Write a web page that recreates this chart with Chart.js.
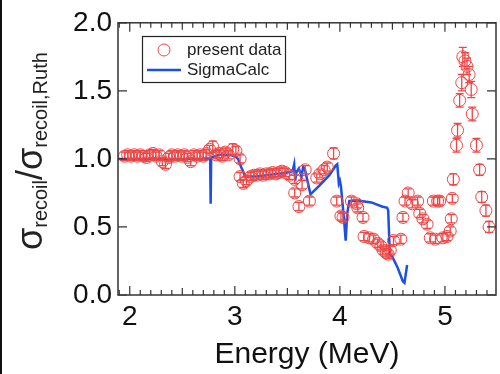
<!DOCTYPE html>
<html>
<head>
<meta charset="utf-8">
<script src="https://cdn.jsdelivr.net/npm/chart.js@4.4.1/dist/chart.umd.min.js"></script>
<style>
  html, body { margin: 0; padding: 0; background: #fff; overflow: hidden; }
  #wrap { width: 503px; height: 374px; }
</style>
</head>
<body>
<div id="wrap"><canvas id="xs" width="503" height="374"></canvas></div>
<script>
// measured points (E in MeV, ratio, error)
var dataE = [1.95, 1.98, 2.01, 2.04, 2.07, 2.10, 2.13, 2.16, 2.19, 2.22, 2.25, 2.28, 2.31, 2.34, 2.37, 2.40,
  2.43, 2.46, 2.49, 2.52, 2.55, 2.58, 2.61, 2.64, 2.67, 2.70, 2.73, 2.76, 2.79, 2.82, 2.85, 2.88, 2.91, 2.94,
  2.98, 3.01, 3.05, 3.05, 3.08, 3.11, 3.15, 3.18, 3.21, 3.24, 3.27, 3.30, 3.33, 3.36, 3.39, 3.42, 3.45, 3.48,
  3.52, 3.57, 3.57, 3.61, 3.64, 3.67, 3.71, 3.78, 3.81, 3.85, 3.88, 3.94, 3.97, 4.01, 4.03, 4.11, 4.16, 4.17,
  4.22, 4.23, 4.28, 4.32, 4.36, 4.39, 4.41, 4.44, 4.46, 4.48, 4.51, 4.58, 4.60, 4.62, 4.65, 4.69, 4.74, 4.76,
  4.79, 4.83, 4.86, 4.89, 4.91, 4.93, 4.95, 4.98, 5.02, 5.05, 5.06, 5.07, 5.08, 5.11, 5.12, 5.14, 5.16, 5.17,
  5.19, 5.21, 5.23, 5.25, 5.26, 5.30, 5.33, 5.35, 5.39, 5.42];
var dataV = [1.02, 1.03, 1.02, 1.03, 1.02, 1.03, 1.02, 1.01, 1.03, 1.04, 1.02, 1.03, 0.98, 0.96, 1.01, 1.03,
  1.02, 1.03, 1.02, 1.03, 1.01, 0.98, 1.03, 1.02, 1.03, 1.02, 1.04, 1.07, 1.09, 1.03, 1.04, 1.02, 1.05, 1.03,
  1.07, 1.06, 1.00, 0.87, 0.82, 0.84, 0.87, 0.88, 0.88, 0.89, 0.88, 0.89, 0.89, 0.90, 0.89, 0.90, 0.91, 0.90,
  0.88, 0.85, 0.75, 0.65, 0.81, 0.92, 0.69, 0.86, 0.89, 0.92, 0.94, 1.04, 0.69, 0.58, 0.57, 0.69, 0.67, 0.64,
  0.57, 0.43, 0.42, 0.41, 0.38, 0.36, 0.33, 0.31, 0.30, 0.33, 0.40, 0.41, 0.57, 0.69, 0.75, 0.67, 0.69, 0.60,
  0.56, 0.52, 0.42, 0.69, 0.41, 0.69, 0.69, 0.42, 0.43, 0.47, 0.56, 0.71, 0.85, 1.10, 1.21, 1.43, 1.56, 1.75,
  1.72, 1.68, 1.62, 1.51, 1.33, 1.10, 0.92, 0.72, 0.62, 0.50];
var dataErr = [0.03, 0.03, 0.03, 0.03, 0.03, 0.03, 0.03, 0.03, 0.03, 0.03, 0.03, 0.03, 0.03, 0.03, 0.03, 0.03,
  0.03, 0.03, 0.03, 0.03, 0.03, 0.03, 0.03, 0.03, 0.03, 0.03, 0.03, 0.03, 0.04, 0.03, 0.03, 0.03, 0.03, 0.03,
  0.04, 0.03, 0.03, 0.03, 0.03, 0.03, 0.03, 0.03, 0.03, 0.03, 0.03, 0.03, 0.03, 0.03, 0.03, 0.03, 0.03, 0.03,
  0.03, 0.03, 0.03, 0.03, 0.03, 0.03, 0.03, 0.03, 0.03, 0.03, 0.03, 0.04, 0.03, 0.03, 0.03, 0.03, 0.03, 0.03,
  0.03, 0.03, 0.03, 0.03, 0.03, 0.03, 0.03, 0.03, 0.03, 0.03, 0.03, 0.03, 0.03, 0.03, 0.03, 0.03, 0.03, 0.03,
  0.03, 0.03, 0.03, 0.03, 0.03, 0.03, 0.03, 0.03, 0.03, 0.03, 0.03, 0.03, 0.04, 0.05, 0.05, 0.05, 0.06, 0.07,
  0.06, 0.06, 0.06, 0.06, 0.05, 0.05, 0.04, 0.04, 0.04, 0.04];

// SigmaCalc curve
var calcE = [1.888, 2.70, 2.765, 2.77, 2.775, 2.85, 2.95, 3.00, 3.03, 3.06, 3.10, 3.20, 3.30, 3.40, 3.50, 3.55,
  3.565, 3.575, 3.585, 3.61, 3.635, 3.65, 3.665, 3.72, 3.80, 3.90, 3.96, 3.975, 3.99, 4.00, 4.01, 4.04, 4.055,
  4.07, 4.09, 4.20, 4.30, 4.40, 4.45, 4.46, 4.475, 4.50, 4.55, 4.60, 4.615, 4.64];
var calcV = [1.00, 1.00, 1.00, 0.67, 1.01, 1.03, 1.03, 1.02, 1.00, 0.94, 0.87, 0.87, 0.88, 0.89, 0.90, 0.91,
  0.96, 0.84, 0.90, 0.93, 0.87, 0.94, 0.93, 0.74, 0.80, 0.88, 0.95, 0.96, 0.82, 0.84, 0.80, 0.55, 0.40,
  0.60, 0.69, 0.69, 0.68, 0.65, 0.64, 0.62, 0.30, 0.28, 0.20, 0.10, 0.09, 0.22];

var xTicks = [2, 3, 4, 5];
var yTicks = [0, 0.5, 1.0, 1.5, 2.0];

var RED = '#f04646';
var BLUE = '#1c4fe6';
var INK = '#333333';
var FONT = '"Liberation Sans", Arial, Helvetica, sans-serif';

var points = dataE.map(function (e, i) { return { x: e, y: dataV[i] }; });
var curve = calcE.map(function (e, i) { return { x: e, y: calcV[i] }; });

var framePlugin = {
  id: 'frame',
  afterDatasetsDraw: function (chart) {
    var ctx = chart.ctx, a = chart.chartArea;
    var xs = chart.scales.x, ys = chart.scales.y;
    ctx.save();
    // error bars
    ctx.strokeStyle = RED;
    ctx.lineWidth = 1.3;
    for (var i = 0; i < dataE.length; i++) {
      var px = xs.getPixelForValue(dataE[i]);
      var top = ys.getPixelForValue(dataV[i] + dataErr[i]);
      var bot = ys.getPixelForValue(dataV[i] - dataErr[i]);
      ctx.beginPath();
      ctx.moveTo(px, top); ctx.lineTo(px, bot);
      ctx.moveTo(px - 4, top); ctx.lineTo(px + 4, top);
      ctx.moveTo(px - 4, bot); ctx.lineTo(px + 4, bot);
      ctx.stroke();
    }
    // frame
    ctx.strokeStyle = INK;
    ctx.lineWidth = 1.5;
    ctx.strokeRect(a.left, a.top, a.right - a.left, a.bottom - a.top);
    // inward ticks
    ctx.lineWidth = 1.2;
    ctx.beginPath();
    for (var k = 19; k <= 54; k++) {
      var v = k / 10;
      var p = xs.getPixelForValue(v);
      if (p < a.left || p > a.right) continue;
      var len = (k % 10 === 0) ? 9 : (k % 5 === 0 ? 7 : 5);
      ctx.moveTo(p, a.bottom); ctx.lineTo(p, a.bottom - len);
      ctx.moveTo(p, a.top); ctx.lineTo(p, a.top + len);
    }
    yTicks.forEach(function (v) {
      var p = ys.getPixelForValue(v);
      ctx.moveTo(a.left, p); ctx.lineTo(a.left + 9, p);
      ctx.moveTo(a.right, p); ctx.lineTo(a.right - 9, p);
    });
    ctx.stroke();

    // legend
    ctx.lineWidth = 1.2;
    ctx.strokeStyle = '#222';
    ctx.strokeRect(142.5, 36.5, 143, 46);
    ctx.strokeStyle = RED;
    ctx.lineWidth = 1;
    ctx.beginPath(); ctx.arc(164, 50, 6, 0, Math.PI * 2); ctx.stroke();
    ctx.strokeStyle = BLUE;
    ctx.lineWidth = 2.5;
    ctx.beginPath(); ctx.moveTo(147, 70); ctx.lineTo(181, 70); ctx.stroke();
    ctx.fillStyle = '#222';
    ctx.font = '17px ' + FONT;
    ctx.textBaseline = 'middle';
    ctx.textAlign = 'left';
    ctx.fillText(chart.data.datasets[0].label, 187, 50);
    ctx.fillText(chart.data.datasets[1].label, 187, 70);

    // y title with subscripts
    ctx.translate(42, 250);
    ctx.rotate(-Math.PI / 2);
    ctx.textBaseline = 'alphabetic';
    ctx.fillStyle = '#222';
    var x0 = 0;
    var big = '36px ' + FONT, small = '20px ' + FONT;
    ctx.font = big; ctx.fillText('\u03c3', x0, 0); x0 += ctx.measureText('\u03c3').width;
    ctx.font = small; ctx.fillText('recoil', x0, 5); x0 += ctx.measureText('recoil').width;
    ctx.font = big; ctx.fillText('/\u03c3', x0, 0); x0 += ctx.measureText('/\u03c3').width;
    ctx.font = small; ctx.fillText('recoil,Ruth', x0, 5);
    ctx.restore();

    // left dark edge of the picture
    ctx.fillStyle = '#111';
    ctx.fillRect(0, 0, 2, chart.height);
  }
};

new Chart(document.getElementById('xs'), {
  type: 'scatter',
  data: {
    datasets: [{
      label: 'present data',
      data: points,
      pointStyle: 'circle',
      pointRadius: 6,
      pointBorderWidth: 1,
      pointBorderColor: RED,
      pointBackgroundColor: 'rgba(0,0,0,0)',
      showLine: false
    }, {
      label: 'SigmaCalc',
      data: curve,
      showLine: true,
      borderColor: BLUE,
      borderWidth: 2.5,
      pointRadius: 0,
      tension: 0
    }]
  },
  options: {
    responsive: false,
    animation: false,
    devicePixelRatio: 1,
    layout: { padding: { top: 19, right: 1, left: 0, bottom: 0 } },
    plugins: { legend: { display: false }, tooltip: { enabled: false } },
    scales: {
      x: {
        type: 'linear',
        min: 1.888,
        max: 5.486,
        grid: { display: false, drawTicks: false },
        border: { display: false },
        afterBuildTicks: function (s) { s.ticks = xTicks.map(function (v) { return { value: v }; }); },
        afterFit: function (s) { s.height = 79; },
        ticks: {
          color: '#111', padding: 5,
          font: { family: FONT, size: 28 },
          callback: function (v) { return String(v); }
        },
        title: {
          display: true, text: 'Energy (MeV)', color: '#111',
          font: { family: FONT, size: 30 }, padding: { top: 0, bottom: 1 }
        }
      },
      y: {
        type: 'linear',
        min: 0,
        max: 2,
        grid: { display: false, drawTicks: false },
        border: { display: false },
        afterBuildTicks: function (s) { s.ticks = yTicks.map(function (v) { return { value: v }; }); },
        afterFit: function (s) { s.width = 118; },
        ticks: {
          color: '#111', padding: 6,
          font: { family: FONT, size: 28 },
          callback: function (v) { return v.toFixed(1); }
        }
      }
    }
  },
  plugins: [framePlugin]
});
</script>
</body>
</html>
